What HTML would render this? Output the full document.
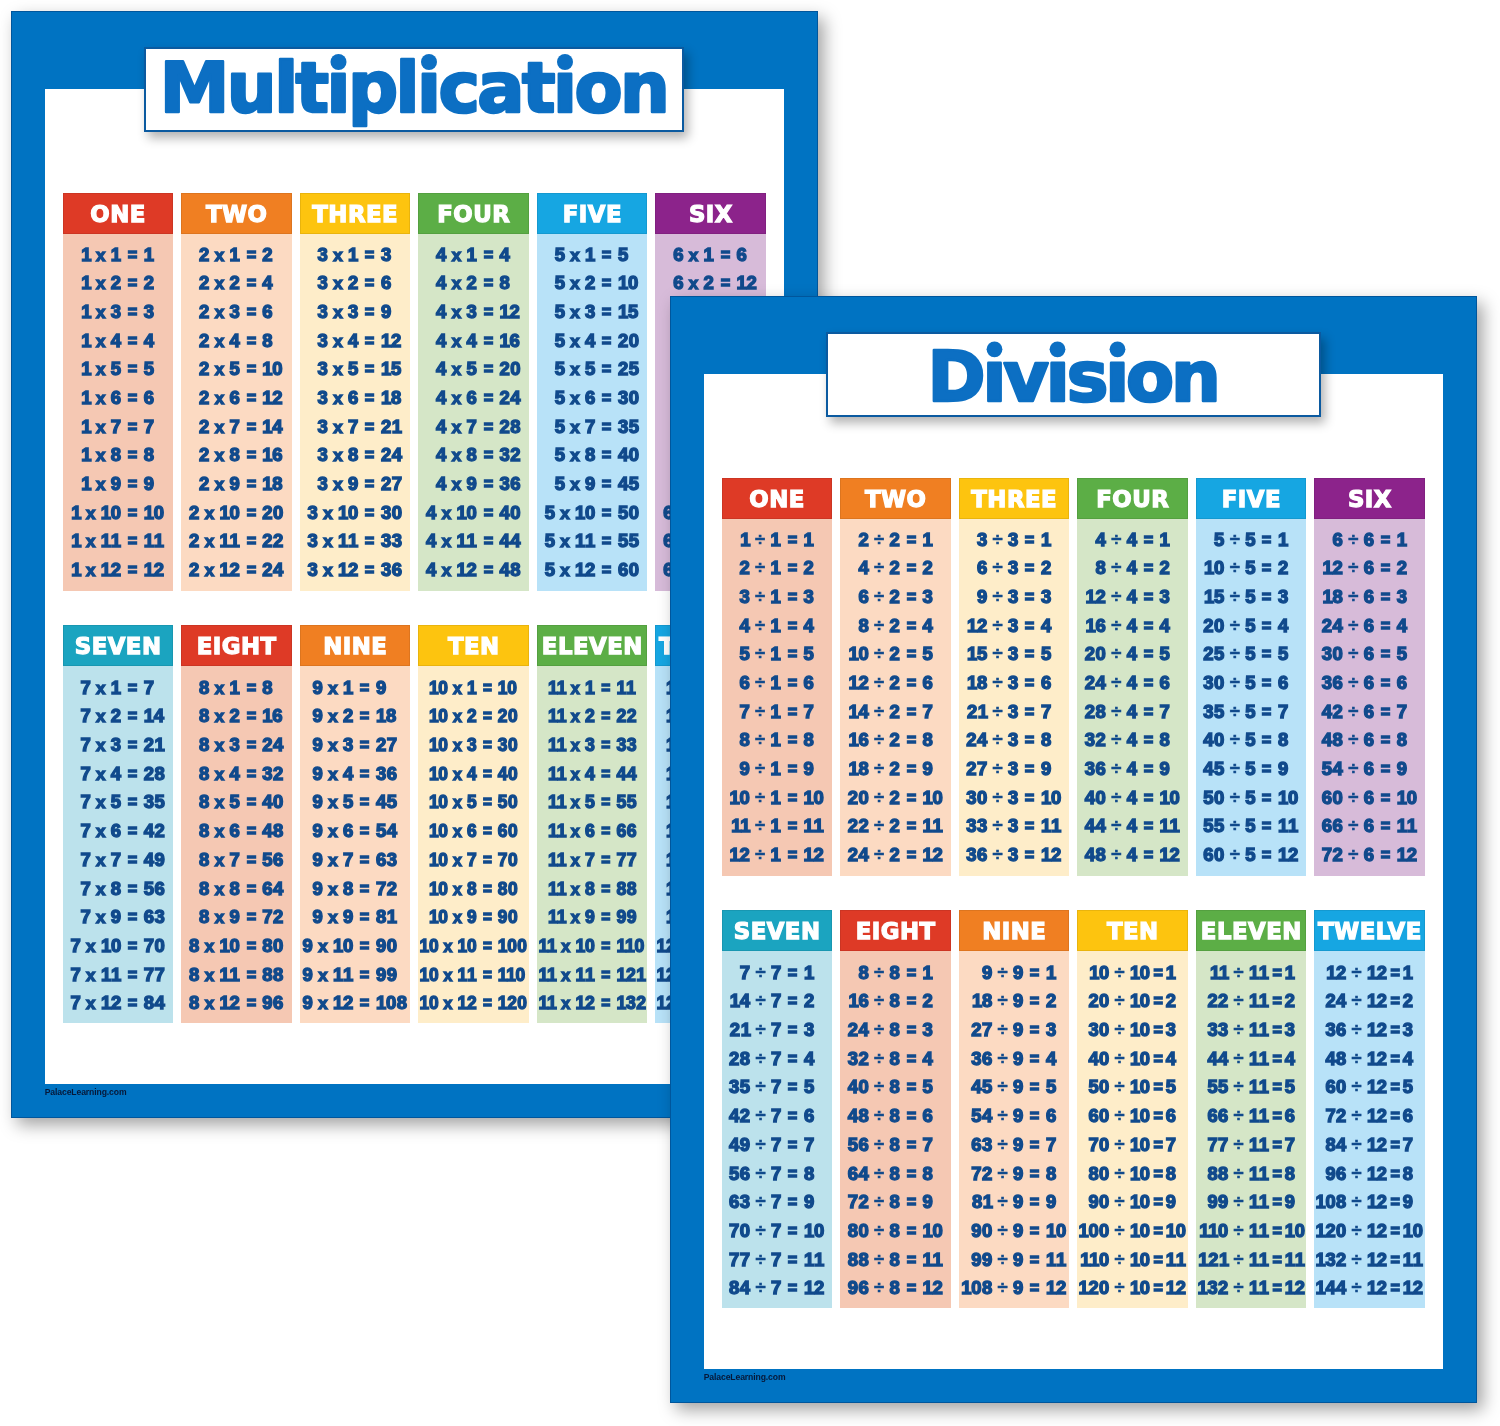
<!DOCTYPE html>
<html><head><meta charset="utf-8"><title>Multiplication and Division Charts</title>
<style>
*{margin:0;padding:0;box-sizing:border-box}
html,body{width:1500px;height:1426px;background:#fff;overflow:hidden}
body{position:relative;font-family:"Liberation Sans",Arial,sans-serif;font-weight:bold}
.poster{position:absolute;width:807.5px;height:1107px;background:#0073C2;
  box-shadow:inset 0 0 0 1px rgba(0,50,110,0.45),6px 7px 16px rgba(0,0,0,0.36)}
.inner{position:absolute;left:34px;top:77.5px;width:739.5px;height:995.5px;background:#fff}
.col{position:absolute;width:110.4px}
.hd{height:41.3px;color:#fff;font-family:"DejaVu Sans",sans-serif;font-size:22.8px;letter-spacing:0.5px;text-indent:0.5px;
  text-align:center;line-height:42.3px;padding-top:0;box-shadow:inset 0 0 0 1px rgba(0,0,0,0.08);-webkit-text-stroke:1.25px #fff}
.bd{height:356.6px;padding-top:6.1px;display:flex;justify-content:center}
.g{display:grid;grid-template-columns:auto auto auto;column-gap:5.4px;align-self:flex-start;
  color:#114A8C;font-size:18.5px;letter-spacing:0.5px;-webkit-text-stroke:1.4px #114A8C;
  white-space:nowrap;transform-origin:50% 0;word-spacing:-0.8px}
.g i{font-style:normal;-webkit-text-stroke:0.5px #114A8C;font-size:18.5px}
.g b{font-size:17px}
.g s{text-decoration:none;letter-spacing:-0.3px}
.g .e{transform:scaleX(0.88)}
.g span{height:28.7px;line-height:28.7px}
.a{text-align:right} .e{text-align:center} .b{text-align:left}
.tbox{position:absolute;top:36.2px;height:85px;background:#fff;border:2px solid #0B5AA0;
  box-shadow:4px 6px 10px rgba(0,0,0,0.3);text-align:center;color:#0C6FC3;white-space:nowrap}
.tbox svg{position:absolute;left:0;top:0;overflow:visible}
.tbox text{font-family:"DejaVu Sans",sans-serif;font-weight:bold;font-size:70px;fill:#0C6FC3;stroke:#0C6FC3;stroke-width:2.6px;stroke-linejoin:round}
.foot{position:absolute;left:34.2px;top:1075.5px;font-size:8.6px;color:#061838;font-weight:bold;letter-spacing:-0.1px}
</style></head><body>
<div class="poster m" style="left:10.5px;top:11px">
<div class="inner"></div>
<div class="col" style="left:52.20px;top:182.20px">
<div class="hd" style="background:#DE3A26">ONE</div>
<div class="bd" style="background:#F5C8B3"><div class="g" id="m0">
<span class="a"><s>1</s> <b>x</b> 1</span><span class="e">=</span><span class="b">1</span>
<span class="a"><s>1</s> <b>x</b> 2</span><span class="e">=</span><span class="b">2</span>
<span class="a"><s>1</s> <b>x</b> 3</span><span class="e">=</span><span class="b">3</span>
<span class="a"><s>1</s> <b>x</b> 4</span><span class="e">=</span><span class="b">4</span>
<span class="a"><s>1</s> <b>x</b> 5</span><span class="e">=</span><span class="b">5</span>
<span class="a"><s>1</s> <b>x</b> 6</span><span class="e">=</span><span class="b">6</span>
<span class="a"><s>1</s> <b>x</b> 7</span><span class="e">=</span><span class="b">7</span>
<span class="a"><s>1</s> <b>x</b> 8</span><span class="e">=</span><span class="b">8</span>
<span class="a"><s>1</s> <b>x</b> 9</span><span class="e">=</span><span class="b">9</span>
<span class="a"><s>1</s> <b>x</b> <s>1</s>0</span><span class="e">=</span><span class="b"><s>1</s>0</span>
<span class="a"><s>1</s> <b>x</b> <s>1</s>1</span><span class="e">=</span><span class="b"><s>1</s>1</span>
<span class="a"><s>1</s> <b>x</b> <s>1</s>2</span><span class="e">=</span><span class="b"><s>1</s>2</span>
</div></div></div>
<div class="col" style="left:170.75px;top:182.20px">
<div class="hd" style="background:#F07F22">TWO</div>
<div class="bd" style="background:#FCDAC2"><div class="g" id="m1">
<span class="a">2 <b>x</b> 1</span><span class="e">=</span><span class="b">2</span>
<span class="a">2 <b>x</b> 2</span><span class="e">=</span><span class="b">4</span>
<span class="a">2 <b>x</b> 3</span><span class="e">=</span><span class="b">6</span>
<span class="a">2 <b>x</b> 4</span><span class="e">=</span><span class="b">8</span>
<span class="a">2 <b>x</b> 5</span><span class="e">=</span><span class="b"><s>1</s>0</span>
<span class="a">2 <b>x</b> 6</span><span class="e">=</span><span class="b"><s>1</s>2</span>
<span class="a">2 <b>x</b> 7</span><span class="e">=</span><span class="b"><s>1</s>4</span>
<span class="a">2 <b>x</b> 8</span><span class="e">=</span><span class="b"><s>1</s>6</span>
<span class="a">2 <b>x</b> 9</span><span class="e">=</span><span class="b"><s>1</s>8</span>
<span class="a">2 <b>x</b> <s>1</s>0</span><span class="e">=</span><span class="b">20</span>
<span class="a">2 <b>x</b> <s>1</s>1</span><span class="e">=</span><span class="b">22</span>
<span class="a">2 <b>x</b> <s>1</s>2</span><span class="e">=</span><span class="b">24</span>
</div></div></div>
<div class="col" style="left:289.30px;top:182.20px">
<div class="hd" style="background:#FDC40F">THREE</div>
<div class="bd" style="background:#FEEDC9"><div class="g" id="m2">
<span class="a">3 <b>x</b> 1</span><span class="e">=</span><span class="b">3</span>
<span class="a">3 <b>x</b> 2</span><span class="e">=</span><span class="b">6</span>
<span class="a">3 <b>x</b> 3</span><span class="e">=</span><span class="b">9</span>
<span class="a">3 <b>x</b> 4</span><span class="e">=</span><span class="b"><s>1</s>2</span>
<span class="a">3 <b>x</b> 5</span><span class="e">=</span><span class="b"><s>1</s>5</span>
<span class="a">3 <b>x</b> 6</span><span class="e">=</span><span class="b"><s>1</s>8</span>
<span class="a">3 <b>x</b> 7</span><span class="e">=</span><span class="b">21</span>
<span class="a">3 <b>x</b> 8</span><span class="e">=</span><span class="b">24</span>
<span class="a">3 <b>x</b> 9</span><span class="e">=</span><span class="b">27</span>
<span class="a">3 <b>x</b> <s>1</s>0</span><span class="e">=</span><span class="b">30</span>
<span class="a">3 <b>x</b> <s>1</s>1</span><span class="e">=</span><span class="b">33</span>
<span class="a">3 <b>x</b> <s>1</s>2</span><span class="e">=</span><span class="b">36</span>
</div></div></div>
<div class="col" style="left:407.85px;top:182.20px">
<div class="hd" style="background:#5CAE46">FOUR</div>
<div class="bd" style="background:#D5E6C7"><div class="g" id="m3">
<span class="a">4 <b>x</b> 1</span><span class="e">=</span><span class="b">4</span>
<span class="a">4 <b>x</b> 2</span><span class="e">=</span><span class="b">8</span>
<span class="a">4 <b>x</b> 3</span><span class="e">=</span><span class="b"><s>1</s>2</span>
<span class="a">4 <b>x</b> 4</span><span class="e">=</span><span class="b"><s>1</s>6</span>
<span class="a">4 <b>x</b> 5</span><span class="e">=</span><span class="b">20</span>
<span class="a">4 <b>x</b> 6</span><span class="e">=</span><span class="b">24</span>
<span class="a">4 <b>x</b> 7</span><span class="e">=</span><span class="b">28</span>
<span class="a">4 <b>x</b> 8</span><span class="e">=</span><span class="b">32</span>
<span class="a">4 <b>x</b> 9</span><span class="e">=</span><span class="b">36</span>
<span class="a">4 <b>x</b> <s>1</s>0</span><span class="e">=</span><span class="b">40</span>
<span class="a">4 <b>x</b> <s>1</s>1</span><span class="e">=</span><span class="b">44</span>
<span class="a">4 <b>x</b> <s>1</s>2</span><span class="e">=</span><span class="b">48</span>
</div></div></div>
<div class="col" style="left:526.40px;top:182.20px">
<div class="hd" style="background:#16A6E2">FIVE</div>
<div class="bd" style="background:#B8E2F8"><div class="g" id="m4">
<span class="a">5 <b>x</b> 1</span><span class="e">=</span><span class="b">5</span>
<span class="a">5 <b>x</b> 2</span><span class="e">=</span><span class="b"><s>1</s>0</span>
<span class="a">5 <b>x</b> 3</span><span class="e">=</span><span class="b"><s>1</s>5</span>
<span class="a">5 <b>x</b> 4</span><span class="e">=</span><span class="b">20</span>
<span class="a">5 <b>x</b> 5</span><span class="e">=</span><span class="b">25</span>
<span class="a">5 <b>x</b> 6</span><span class="e">=</span><span class="b">30</span>
<span class="a">5 <b>x</b> 7</span><span class="e">=</span><span class="b">35</span>
<span class="a">5 <b>x</b> 8</span><span class="e">=</span><span class="b">40</span>
<span class="a">5 <b>x</b> 9</span><span class="e">=</span><span class="b">45</span>
<span class="a">5 <b>x</b> <s>1</s>0</span><span class="e">=</span><span class="b">50</span>
<span class="a">5 <b>x</b> <s>1</s>1</span><span class="e">=</span><span class="b">55</span>
<span class="a">5 <b>x</b> <s>1</s>2</span><span class="e">=</span><span class="b">60</span>
</div></div></div>
<div class="col" style="left:644.95px;top:182.20px">
<div class="hd" style="background:#8C238B">SIX</div>
<div class="bd" style="background:#D7BBD9"><div class="g" id="m5">
<span class="a">6 <b>x</b> 1</span><span class="e">=</span><span class="b">6</span>
<span class="a">6 <b>x</b> 2</span><span class="e">=</span><span class="b"><s>1</s>2</span>
<span class="a">6 <b>x</b> 3</span><span class="e">=</span><span class="b"><s>1</s>8</span>
<span class="a">6 <b>x</b> 4</span><span class="e">=</span><span class="b">24</span>
<span class="a">6 <b>x</b> 5</span><span class="e">=</span><span class="b">30</span>
<span class="a">6 <b>x</b> 6</span><span class="e">=</span><span class="b">36</span>
<span class="a">6 <b>x</b> 7</span><span class="e">=</span><span class="b">42</span>
<span class="a">6 <b>x</b> 8</span><span class="e">=</span><span class="b">48</span>
<span class="a">6 <b>x</b> 9</span><span class="e">=</span><span class="b">54</span>
<span class="a">6 <b>x</b> <s>1</s>0</span><span class="e">=</span><span class="b">60</span>
<span class="a">6 <b>x</b> <s>1</s>1</span><span class="e">=</span><span class="b">66</span>
<span class="a">6 <b>x</b> <s>1</s>2</span><span class="e">=</span><span class="b">72</span>
</div></div></div>
<div class="col" style="left:52.20px;top:614.00px">
<div class="hd" style="background:#1BA4C0">SEVEN</div>
<div class="bd" style="background:#BCE2EC;padding-top:7.4px"><div class="g" id="m6">
<span class="a">7 <b>x</b> 1</span><span class="e">=</span><span class="b">7</span>
<span class="a">7 <b>x</b> 2</span><span class="e">=</span><span class="b"><s>1</s>4</span>
<span class="a">7 <b>x</b> 3</span><span class="e">=</span><span class="b">21</span>
<span class="a">7 <b>x</b> 4</span><span class="e">=</span><span class="b">28</span>
<span class="a">7 <b>x</b> 5</span><span class="e">=</span><span class="b">35</span>
<span class="a">7 <b>x</b> 6</span><span class="e">=</span><span class="b">42</span>
<span class="a">7 <b>x</b> 7</span><span class="e">=</span><span class="b">49</span>
<span class="a">7 <b>x</b> 8</span><span class="e">=</span><span class="b">56</span>
<span class="a">7 <b>x</b> 9</span><span class="e">=</span><span class="b">63</span>
<span class="a">7 <b>x</b> <s>1</s>0</span><span class="e">=</span><span class="b">70</span>
<span class="a">7 <b>x</b> <s>1</s>1</span><span class="e">=</span><span class="b">77</span>
<span class="a">7 <b>x</b> <s>1</s>2</span><span class="e">=</span><span class="b">84</span>
</div></div></div>
<div class="col" style="left:170.75px;top:614.00px">
<div class="hd" style="background:#DE3A26">EIGHT</div>
<div class="bd" style="background:#F5C8B3;padding-top:7.4px"><div class="g" id="m7">
<span class="a">8 <b>x</b> 1</span><span class="e">=</span><span class="b">8</span>
<span class="a">8 <b>x</b> 2</span><span class="e">=</span><span class="b"><s>1</s>6</span>
<span class="a">8 <b>x</b> 3</span><span class="e">=</span><span class="b">24</span>
<span class="a">8 <b>x</b> 4</span><span class="e">=</span><span class="b">32</span>
<span class="a">8 <b>x</b> 5</span><span class="e">=</span><span class="b">40</span>
<span class="a">8 <b>x</b> 6</span><span class="e">=</span><span class="b">48</span>
<span class="a">8 <b>x</b> 7</span><span class="e">=</span><span class="b">56</span>
<span class="a">8 <b>x</b> 8</span><span class="e">=</span><span class="b">64</span>
<span class="a">8 <b>x</b> 9</span><span class="e">=</span><span class="b">72</span>
<span class="a">8 <b>x</b> <s>1</s>0</span><span class="e">=</span><span class="b">80</span>
<span class="a">8 <b>x</b> <s>1</s>1</span><span class="e">=</span><span class="b">88</span>
<span class="a">8 <b>x</b> <s>1</s>2</span><span class="e">=</span><span class="b">96</span>
</div></div></div>
<div class="col" style="left:289.30px;top:614.00px">
<div class="hd" style="background:#F07F22">NINE</div>
<div class="bd" style="background:#FCDAC2;padding-top:7.4px"><div class="g" id="m8">
<span class="a">9 <b>x</b> 1</span><span class="e">=</span><span class="b">9</span>
<span class="a">9 <b>x</b> 2</span><span class="e">=</span><span class="b"><s>1</s>8</span>
<span class="a">9 <b>x</b> 3</span><span class="e">=</span><span class="b">27</span>
<span class="a">9 <b>x</b> 4</span><span class="e">=</span><span class="b">36</span>
<span class="a">9 <b>x</b> 5</span><span class="e">=</span><span class="b">45</span>
<span class="a">9 <b>x</b> 6</span><span class="e">=</span><span class="b">54</span>
<span class="a">9 <b>x</b> 7</span><span class="e">=</span><span class="b">63</span>
<span class="a">9 <b>x</b> 8</span><span class="e">=</span><span class="b">72</span>
<span class="a">9 <b>x</b> 9</span><span class="e">=</span><span class="b">81</span>
<span class="a">9 <b>x</b> <s>1</s>0</span><span class="e">=</span><span class="b">90</span>
<span class="a">9 <b>x</b> <s>1</s>1</span><span class="e">=</span><span class="b">99</span>
<span class="a">9 <b>x</b> <s>1</s>2</span><span class="e">=</span><span class="b"><s>1</s>08</span>
</div></div></div>
<div class="col" style="left:407.85px;top:614.00px">
<div class="hd" style="background:#FDC40F">TEN</div>
<div class="bd" style="background:#FEEDC9;padding-top:7.4px"><div class="g" id="m9" style="transform:scaleX(0.9391)">
<span class="a"><s>1</s>0 <b>x</b> 1</span><span class="e">=</span><span class="b"><s>1</s>0</span>
<span class="a"><s>1</s>0 <b>x</b> 2</span><span class="e">=</span><span class="b">20</span>
<span class="a"><s>1</s>0 <b>x</b> 3</span><span class="e">=</span><span class="b">30</span>
<span class="a"><s>1</s>0 <b>x</b> 4</span><span class="e">=</span><span class="b">40</span>
<span class="a"><s>1</s>0 <b>x</b> 5</span><span class="e">=</span><span class="b">50</span>
<span class="a"><s>1</s>0 <b>x</b> 6</span><span class="e">=</span><span class="b">60</span>
<span class="a"><s>1</s>0 <b>x</b> 7</span><span class="e">=</span><span class="b">70</span>
<span class="a"><s>1</s>0 <b>x</b> 8</span><span class="e">=</span><span class="b">80</span>
<span class="a"><s>1</s>0 <b>x</b> 9</span><span class="e">=</span><span class="b">90</span>
<span class="a"><s>1</s>0 <b>x</b> <s>1</s>0</span><span class="e">=</span><span class="b"><s>1</s>00</span>
<span class="a"><s>1</s>0 <b>x</b> <s>1</s>1</span><span class="e">=</span><span class="b"><s>1</s><s>1</s>0</span>
<span class="a"><s>1</s>0 <b>x</b> <s>1</s>2</span><span class="e">=</span><span class="b"><s>1</s>20</span>
</div></div></div>
<div class="col" style="left:526.40px;top:614.00px">
<div class="hd" style="background:#5CAE46">ELEVEN</div>
<div class="bd" style="background:#D5E6C7;padding-top:7.4px"><div class="g" id="m10" style="transform:scaleX(0.9558)">
<span class="a"><s>1</s><s>1</s> <b>x</b> 1</span><span class="e">=</span><span class="b"><s>1</s>1</span>
<span class="a"><s>1</s><s>1</s> <b>x</b> 2</span><span class="e">=</span><span class="b">22</span>
<span class="a"><s>1</s><s>1</s> <b>x</b> 3</span><span class="e">=</span><span class="b">33</span>
<span class="a"><s>1</s><s>1</s> <b>x</b> 4</span><span class="e">=</span><span class="b">44</span>
<span class="a"><s>1</s><s>1</s> <b>x</b> 5</span><span class="e">=</span><span class="b">55</span>
<span class="a"><s>1</s><s>1</s> <b>x</b> 6</span><span class="e">=</span><span class="b">66</span>
<span class="a"><s>1</s><s>1</s> <b>x</b> 7</span><span class="e">=</span><span class="b">77</span>
<span class="a"><s>1</s><s>1</s> <b>x</b> 8</span><span class="e">=</span><span class="b">88</span>
<span class="a"><s>1</s><s>1</s> <b>x</b> 9</span><span class="e">=</span><span class="b">99</span>
<span class="a"><s>1</s><s>1</s> <b>x</b> <s>1</s>0</span><span class="e">=</span><span class="b"><s>1</s><s>1</s>0</span>
<span class="a"><s>1</s><s>1</s> <b>x</b> <s>1</s>1</span><span class="e">=</span><span class="b"><s>1</s>21</span>
<span class="a"><s>1</s><s>1</s> <b>x</b> <s>1</s>2</span><span class="e">=</span><span class="b"><s>1</s>32</span>
</div></div></div>
<div class="col" style="left:644.95px;top:614.00px">
<div class="hd" style="background:#16A6E2">TWELVE</div>
<div class="bd" style="background:#B8E2F8;padding-top:7.4px"><div class="g" id="m11" style="transform:scaleX(0.9391)">
<span class="a"><s>1</s>2 <b>x</b> 1</span><span class="e">=</span><span class="b"><s>1</s>2</span>
<span class="a"><s>1</s>2 <b>x</b> 2</span><span class="e">=</span><span class="b">24</span>
<span class="a"><s>1</s>2 <b>x</b> 3</span><span class="e">=</span><span class="b">36</span>
<span class="a"><s>1</s>2 <b>x</b> 4</span><span class="e">=</span><span class="b">48</span>
<span class="a"><s>1</s>2 <b>x</b> 5</span><span class="e">=</span><span class="b">60</span>
<span class="a"><s>1</s>2 <b>x</b> 6</span><span class="e">=</span><span class="b">72</span>
<span class="a"><s>1</s>2 <b>x</b> 7</span><span class="e">=</span><span class="b">84</span>
<span class="a"><s>1</s>2 <b>x</b> 8</span><span class="e">=</span><span class="b">96</span>
<span class="a"><s>1</s>2 <b>x</b> 9</span><span class="e">=</span><span class="b"><s>1</s>08</span>
<span class="a"><s>1</s>2 <b>x</b> <s>1</s>0</span><span class="e">=</span><span class="b"><s>1</s>20</span>
<span class="a"><s>1</s>2 <b>x</b> <s>1</s>1</span><span class="e">=</span><span class="b"><s>1</s>32</span>
<span class="a"><s>1</s>2 <b>x</b> <s>1</s>2</span><span class="e">=</span><span class="b"><s>1</s>44</span>
</div></div></div>
<div class="tbox" style="left:133.5px;width:540px"><svg width="536" height="81" viewBox="0 0 536 81"><text x="267.5" y="63.1" text-anchor="middle" style="letter-spacing:-2.55px">Multiplication</text><rect x="184.0" y="7.3" width="17.0" height="15.5" fill="#fff"/><circle cx="192.5" cy="13.0" r="8.0" fill="#0C6FC3"/><rect x="275.0" y="7.3" width="16.0" height="15.5" fill="#fff"/><circle cx="283.0" cy="13.0" r="8.0" fill="#0C6FC3"/><rect x="411.0" y="7.3" width="16.0" height="15.5" fill="#fff"/><circle cx="419.0" cy="13.0" r="8.0" fill="#0C6FC3"/></svg></div>
<div class="foot">PalaceLearning.com</div>
</div>
<div class="poster d" style="left:669.5px;top:296px">
<div class="inner"></div>
<div class="col" style="left:52.20px;top:182.20px">
<div class="hd" style="background:#DE3A26">ONE</div>
<div class="bd" style="background:#F5C8B3"><div class="g" id="d0">
<span class="a"><s>1</s> <i>÷</i> 1</span><span class="e">=</span><span class="b">1</span>
<span class="a">2 <i>÷</i> 1</span><span class="e">=</span><span class="b">2</span>
<span class="a">3 <i>÷</i> 1</span><span class="e">=</span><span class="b">3</span>
<span class="a">4 <i>÷</i> 1</span><span class="e">=</span><span class="b">4</span>
<span class="a">5 <i>÷</i> 1</span><span class="e">=</span><span class="b">5</span>
<span class="a">6 <i>÷</i> 1</span><span class="e">=</span><span class="b">6</span>
<span class="a">7 <i>÷</i> 1</span><span class="e">=</span><span class="b">7</span>
<span class="a">8 <i>÷</i> 1</span><span class="e">=</span><span class="b">8</span>
<span class="a">9 <i>÷</i> 1</span><span class="e">=</span><span class="b">9</span>
<span class="a"><s>1</s>0 <i>÷</i> 1</span><span class="e">=</span><span class="b"><s>1</s>0</span>
<span class="a"><s>1</s><s>1</s> <i>÷</i> 1</span><span class="e">=</span><span class="b"><s>1</s>1</span>
<span class="a"><s>1</s>2 <i>÷</i> 1</span><span class="e">=</span><span class="b"><s>1</s>2</span>
</div></div></div>
<div class="col" style="left:170.75px;top:182.20px">
<div class="hd" style="background:#F07F22">TWO</div>
<div class="bd" style="background:#FCDAC2"><div class="g" id="d1">
<span class="a">2 <i>÷</i> 2</span><span class="e">=</span><span class="b">1</span>
<span class="a">4 <i>÷</i> 2</span><span class="e">=</span><span class="b">2</span>
<span class="a">6 <i>÷</i> 2</span><span class="e">=</span><span class="b">3</span>
<span class="a">8 <i>÷</i> 2</span><span class="e">=</span><span class="b">4</span>
<span class="a"><s>1</s>0 <i>÷</i> 2</span><span class="e">=</span><span class="b">5</span>
<span class="a"><s>1</s>2 <i>÷</i> 2</span><span class="e">=</span><span class="b">6</span>
<span class="a"><s>1</s>4 <i>÷</i> 2</span><span class="e">=</span><span class="b">7</span>
<span class="a"><s>1</s>6 <i>÷</i> 2</span><span class="e">=</span><span class="b">8</span>
<span class="a"><s>1</s>8 <i>÷</i> 2</span><span class="e">=</span><span class="b">9</span>
<span class="a">20 <i>÷</i> 2</span><span class="e">=</span><span class="b"><s>1</s>0</span>
<span class="a">22 <i>÷</i> 2</span><span class="e">=</span><span class="b"><s>1</s>1</span>
<span class="a">24 <i>÷</i> 2</span><span class="e">=</span><span class="b"><s>1</s>2</span>
</div></div></div>
<div class="col" style="left:289.30px;top:182.20px">
<div class="hd" style="background:#FDC40F">THREE</div>
<div class="bd" style="background:#FEEDC9"><div class="g" id="d2">
<span class="a">3 <i>÷</i> 3</span><span class="e">=</span><span class="b">1</span>
<span class="a">6 <i>÷</i> 3</span><span class="e">=</span><span class="b">2</span>
<span class="a">9 <i>÷</i> 3</span><span class="e">=</span><span class="b">3</span>
<span class="a"><s>1</s>2 <i>÷</i> 3</span><span class="e">=</span><span class="b">4</span>
<span class="a"><s>1</s>5 <i>÷</i> 3</span><span class="e">=</span><span class="b">5</span>
<span class="a"><s>1</s>8 <i>÷</i> 3</span><span class="e">=</span><span class="b">6</span>
<span class="a">2<s>1</s> <i>÷</i> 3</span><span class="e">=</span><span class="b">7</span>
<span class="a">24 <i>÷</i> 3</span><span class="e">=</span><span class="b">8</span>
<span class="a">27 <i>÷</i> 3</span><span class="e">=</span><span class="b">9</span>
<span class="a">30 <i>÷</i> 3</span><span class="e">=</span><span class="b"><s>1</s>0</span>
<span class="a">33 <i>÷</i> 3</span><span class="e">=</span><span class="b"><s>1</s>1</span>
<span class="a">36 <i>÷</i> 3</span><span class="e">=</span><span class="b"><s>1</s>2</span>
</div></div></div>
<div class="col" style="left:407.85px;top:182.20px">
<div class="hd" style="background:#5CAE46">FOUR</div>
<div class="bd" style="background:#D5E6C7"><div class="g" id="d3">
<span class="a">4 <i>÷</i> 4</span><span class="e">=</span><span class="b">1</span>
<span class="a">8 <i>÷</i> 4</span><span class="e">=</span><span class="b">2</span>
<span class="a"><s>1</s>2 <i>÷</i> 4</span><span class="e">=</span><span class="b">3</span>
<span class="a"><s>1</s>6 <i>÷</i> 4</span><span class="e">=</span><span class="b">4</span>
<span class="a">20 <i>÷</i> 4</span><span class="e">=</span><span class="b">5</span>
<span class="a">24 <i>÷</i> 4</span><span class="e">=</span><span class="b">6</span>
<span class="a">28 <i>÷</i> 4</span><span class="e">=</span><span class="b">7</span>
<span class="a">32 <i>÷</i> 4</span><span class="e">=</span><span class="b">8</span>
<span class="a">36 <i>÷</i> 4</span><span class="e">=</span><span class="b">9</span>
<span class="a">40 <i>÷</i> 4</span><span class="e">=</span><span class="b"><s>1</s>0</span>
<span class="a">44 <i>÷</i> 4</span><span class="e">=</span><span class="b"><s>1</s>1</span>
<span class="a">48 <i>÷</i> 4</span><span class="e">=</span><span class="b"><s>1</s>2</span>
</div></div></div>
<div class="col" style="left:526.40px;top:182.20px">
<div class="hd" style="background:#16A6E2">FIVE</div>
<div class="bd" style="background:#B8E2F8"><div class="g" id="d4">
<span class="a">5 <i>÷</i> 5</span><span class="e">=</span><span class="b">1</span>
<span class="a"><s>1</s>0 <i>÷</i> 5</span><span class="e">=</span><span class="b">2</span>
<span class="a"><s>1</s>5 <i>÷</i> 5</span><span class="e">=</span><span class="b">3</span>
<span class="a">20 <i>÷</i> 5</span><span class="e">=</span><span class="b">4</span>
<span class="a">25 <i>÷</i> 5</span><span class="e">=</span><span class="b">5</span>
<span class="a">30 <i>÷</i> 5</span><span class="e">=</span><span class="b">6</span>
<span class="a">35 <i>÷</i> 5</span><span class="e">=</span><span class="b">7</span>
<span class="a">40 <i>÷</i> 5</span><span class="e">=</span><span class="b">8</span>
<span class="a">45 <i>÷</i> 5</span><span class="e">=</span><span class="b">9</span>
<span class="a">50 <i>÷</i> 5</span><span class="e">=</span><span class="b"><s>1</s>0</span>
<span class="a">55 <i>÷</i> 5</span><span class="e">=</span><span class="b"><s>1</s>1</span>
<span class="a">60 <i>÷</i> 5</span><span class="e">=</span><span class="b"><s>1</s>2</span>
</div></div></div>
<div class="col" style="left:644.95px;top:182.20px">
<div class="hd" style="background:#8C238B">SIX</div>
<div class="bd" style="background:#D7BBD9"><div class="g" id="d5">
<span class="a">6 <i>÷</i> 6</span><span class="e">=</span><span class="b">1</span>
<span class="a"><s>1</s>2 <i>÷</i> 6</span><span class="e">=</span><span class="b">2</span>
<span class="a"><s>1</s>8 <i>÷</i> 6</span><span class="e">=</span><span class="b">3</span>
<span class="a">24 <i>÷</i> 6</span><span class="e">=</span><span class="b">4</span>
<span class="a">30 <i>÷</i> 6</span><span class="e">=</span><span class="b">5</span>
<span class="a">36 <i>÷</i> 6</span><span class="e">=</span><span class="b">6</span>
<span class="a">42 <i>÷</i> 6</span><span class="e">=</span><span class="b">7</span>
<span class="a">48 <i>÷</i> 6</span><span class="e">=</span><span class="b">8</span>
<span class="a">54 <i>÷</i> 6</span><span class="e">=</span><span class="b">9</span>
<span class="a">60 <i>÷</i> 6</span><span class="e">=</span><span class="b"><s>1</s>0</span>
<span class="a">66 <i>÷</i> 6</span><span class="e">=</span><span class="b"><s>1</s>1</span>
<span class="a">72 <i>÷</i> 6</span><span class="e">=</span><span class="b"><s>1</s>2</span>
</div></div></div>
<div class="col" style="left:52.20px;top:614.00px">
<div class="hd" style="background:#1BA4C0">SEVEN</div>
<div class="bd" style="background:#BCE2EC;padding-top:7.4px"><div class="g" id="d6">
<span class="a">7 <i>÷</i> 7</span><span class="e">=</span><span class="b">1</span>
<span class="a"><s>1</s>4 <i>÷</i> 7</span><span class="e">=</span><span class="b">2</span>
<span class="a">2<s>1</s> <i>÷</i> 7</span><span class="e">=</span><span class="b">3</span>
<span class="a">28 <i>÷</i> 7</span><span class="e">=</span><span class="b">4</span>
<span class="a">35 <i>÷</i> 7</span><span class="e">=</span><span class="b">5</span>
<span class="a">42 <i>÷</i> 7</span><span class="e">=</span><span class="b">6</span>
<span class="a">49 <i>÷</i> 7</span><span class="e">=</span><span class="b">7</span>
<span class="a">56 <i>÷</i> 7</span><span class="e">=</span><span class="b">8</span>
<span class="a">63 <i>÷</i> 7</span><span class="e">=</span><span class="b">9</span>
<span class="a">70 <i>÷</i> 7</span><span class="e">=</span><span class="b"><s>1</s>0</span>
<span class="a">77 <i>÷</i> 7</span><span class="e">=</span><span class="b"><s>1</s>1</span>
<span class="a">84 <i>÷</i> 7</span><span class="e">=</span><span class="b"><s>1</s>2</span>
</div></div></div>
<div class="col" style="left:170.75px;top:614.00px">
<div class="hd" style="background:#DE3A26">EIGHT</div>
<div class="bd" style="background:#F5C8B3;padding-top:7.4px"><div class="g" id="d7">
<span class="a">8 <i>÷</i> 8</span><span class="e">=</span><span class="b">1</span>
<span class="a"><s>1</s>6 <i>÷</i> 8</span><span class="e">=</span><span class="b">2</span>
<span class="a">24 <i>÷</i> 8</span><span class="e">=</span><span class="b">3</span>
<span class="a">32 <i>÷</i> 8</span><span class="e">=</span><span class="b">4</span>
<span class="a">40 <i>÷</i> 8</span><span class="e">=</span><span class="b">5</span>
<span class="a">48 <i>÷</i> 8</span><span class="e">=</span><span class="b">6</span>
<span class="a">56 <i>÷</i> 8</span><span class="e">=</span><span class="b">7</span>
<span class="a">64 <i>÷</i> 8</span><span class="e">=</span><span class="b">8</span>
<span class="a">72 <i>÷</i> 8</span><span class="e">=</span><span class="b">9</span>
<span class="a">80 <i>÷</i> 8</span><span class="e">=</span><span class="b"><s>1</s>0</span>
<span class="a">88 <i>÷</i> 8</span><span class="e">=</span><span class="b"><s>1</s>1</span>
<span class="a">96 <i>÷</i> 8</span><span class="e">=</span><span class="b"><s>1</s>2</span>
</div></div></div>
<div class="col" style="left:289.30px;top:614.00px">
<div class="hd" style="background:#F07F22">NINE</div>
<div class="bd" style="background:#FCDAC2;padding-top:7.4px"><div class="g" id="d8">
<span class="a">9 <i>÷</i> 9</span><span class="e">=</span><span class="b">1</span>
<span class="a"><s>1</s>8 <i>÷</i> 9</span><span class="e">=</span><span class="b">2</span>
<span class="a">27 <i>÷</i> 9</span><span class="e">=</span><span class="b">3</span>
<span class="a">36 <i>÷</i> 9</span><span class="e">=</span><span class="b">4</span>
<span class="a">45 <i>÷</i> 9</span><span class="e">=</span><span class="b">5</span>
<span class="a">54 <i>÷</i> 9</span><span class="e">=</span><span class="b">6</span>
<span class="a">63 <i>÷</i> 9</span><span class="e">=</span><span class="b">7</span>
<span class="a">72 <i>÷</i> 9</span><span class="e">=</span><span class="b">8</span>
<span class="a">8<s>1</s> <i>÷</i> 9</span><span class="e">=</span><span class="b">9</span>
<span class="a">90 <i>÷</i> 9</span><span class="e">=</span><span class="b"><s>1</s>0</span>
<span class="a">99 <i>÷</i> 9</span><span class="e">=</span><span class="b"><s>1</s>1</span>
<span class="a"><s>1</s>08 <i>÷</i> 9</span><span class="e">=</span><span class="b"><s>1</s>2</span>
</div></div></div>
<div class="col" style="left:407.85px;top:614.00px">
<div class="hd" style="background:#FDC40F">TEN</div>
<div class="bd" style="background:#FEEDC9;padding-top:7.4px"><div class="g" id="d9" style="transform:scaleX(0.9908);column-gap:2.0px">
<span class="a"><s>1</s>0 <i>÷</i> <s>1</s>0</span><span class="e">=</span><span class="b">1</span>
<span class="a">20 <i>÷</i> <s>1</s>0</span><span class="e">=</span><span class="b">2</span>
<span class="a">30 <i>÷</i> <s>1</s>0</span><span class="e">=</span><span class="b">3</span>
<span class="a">40 <i>÷</i> <s>1</s>0</span><span class="e">=</span><span class="b">4</span>
<span class="a">50 <i>÷</i> <s>1</s>0</span><span class="e">=</span><span class="b">5</span>
<span class="a">60 <i>÷</i> <s>1</s>0</span><span class="e">=</span><span class="b">6</span>
<span class="a">70 <i>÷</i> <s>1</s>0</span><span class="e">=</span><span class="b">7</span>
<span class="a">80 <i>÷</i> <s>1</s>0</span><span class="e">=</span><span class="b">8</span>
<span class="a">90 <i>÷</i> <s>1</s>0</span><span class="e">=</span><span class="b">9</span>
<span class="a"><s>1</s>00 <i>÷</i> <s>1</s>0</span><span class="e">=</span><span class="b"><s>1</s>0</span>
<span class="a"><s>1</s><s>1</s>0 <i>÷</i> <s>1</s>0</span><span class="e">=</span><span class="b"><s>1</s>1</span>
<span class="a"><s>1</s>20 <i>÷</i> <s>1</s>0</span><span class="e">=</span><span class="b"><s>1</s>2</span>
</div></div></div>
<div class="col" style="left:526.40px;top:614.00px">
<div class="hd" style="background:#5CAE46">ELEVEN</div>
<div class="bd" style="background:#D5E6C7;padding-top:7.4px"><div class="g" id="d10" style="transform:scaleX(0.9908);column-gap:2.0px">
<span class="a"><s>1</s><s>1</s> <i>÷</i> <s>1</s>1</span><span class="e">=</span><span class="b">1</span>
<span class="a">22 <i>÷</i> <s>1</s>1</span><span class="e">=</span><span class="b">2</span>
<span class="a">33 <i>÷</i> <s>1</s>1</span><span class="e">=</span><span class="b">3</span>
<span class="a">44 <i>÷</i> <s>1</s>1</span><span class="e">=</span><span class="b">4</span>
<span class="a">55 <i>÷</i> <s>1</s>1</span><span class="e">=</span><span class="b">5</span>
<span class="a">66 <i>÷</i> <s>1</s>1</span><span class="e">=</span><span class="b">6</span>
<span class="a">77 <i>÷</i> <s>1</s>1</span><span class="e">=</span><span class="b">7</span>
<span class="a">88 <i>÷</i> <s>1</s>1</span><span class="e">=</span><span class="b">8</span>
<span class="a">99 <i>÷</i> <s>1</s>1</span><span class="e">=</span><span class="b">9</span>
<span class="a"><s>1</s><s>1</s>0 <i>÷</i> <s>1</s>1</span><span class="e">=</span><span class="b"><s>1</s>0</span>
<span class="a"><s>1</s>2<s>1</s> <i>÷</i> <s>1</s>1</span><span class="e">=</span><span class="b"><s>1</s>1</span>
<span class="a"><s>1</s>32 <i>÷</i> <s>1</s>1</span><span class="e">=</span><span class="b"><s>1</s>2</span>
</div></div></div>
<div class="col" style="left:644.95px;top:614.00px">
<div class="hd" style="background:#16A6E2">TWELVE</div>
<div class="bd" style="background:#B8E2F8;padding-top:7.4px"><div class="g" id="d11" style="transform:scaleX(0.9908);column-gap:2.0px">
<span class="a"><s>1</s>2 <i>÷</i> <s>1</s>2</span><span class="e">=</span><span class="b">1</span>
<span class="a">24 <i>÷</i> <s>1</s>2</span><span class="e">=</span><span class="b">2</span>
<span class="a">36 <i>÷</i> <s>1</s>2</span><span class="e">=</span><span class="b">3</span>
<span class="a">48 <i>÷</i> <s>1</s>2</span><span class="e">=</span><span class="b">4</span>
<span class="a">60 <i>÷</i> <s>1</s>2</span><span class="e">=</span><span class="b">5</span>
<span class="a">72 <i>÷</i> <s>1</s>2</span><span class="e">=</span><span class="b">6</span>
<span class="a">84 <i>÷</i> <s>1</s>2</span><span class="e">=</span><span class="b">7</span>
<span class="a">96 <i>÷</i> <s>1</s>2</span><span class="e">=</span><span class="b">8</span>
<span class="a"><s>1</s>08 <i>÷</i> <s>1</s>2</span><span class="e">=</span><span class="b">9</span>
<span class="a"><s>1</s>20 <i>÷</i> <s>1</s>2</span><span class="e">=</span><span class="b"><s>1</s>0</span>
<span class="a"><s>1</s>32 <i>÷</i> <s>1</s>2</span><span class="e">=</span><span class="b"><s>1</s>1</span>
<span class="a"><s>1</s>44 <i>÷</i> <s>1</s>2</span><span class="e">=</span><span class="b"><s>1</s>2</span>
</div></div></div>
<div class="tbox" style="left:156.5px;width:494.7px"><svg width="490.7" height="81" viewBox="0 0 490.7 81"><text x="244.6" y="67.2" text-anchor="middle" style="letter-spacing:-3.15px">Division</text><rect x="158.0" y="11.3" width="17.0" height="15.5" fill="#fff"/><circle cx="166.5" cy="15.3" r="7.9" fill="#0C6FC3"/><rect x="221.0" y="11.3" width="17.0" height="15.5" fill="#fff"/><circle cx="229.5" cy="15.3" r="7.9" fill="#0C6FC3"/><rect x="281.0" y="11.3" width="17.0" height="15.5" fill="#fff"/><circle cx="289.5" cy="15.3" r="7.9" fill="#0C6FC3"/></svg></div>
<div class="foot">PalaceLearning.com</div>
</div>
</body></html>
